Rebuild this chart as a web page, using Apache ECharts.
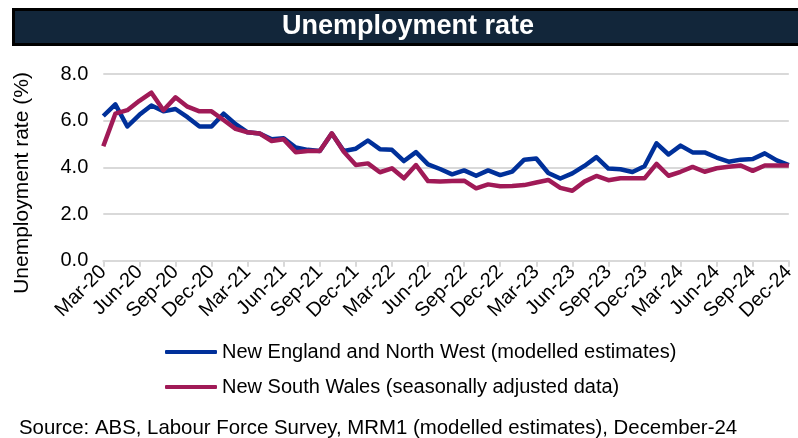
<!DOCTYPE html>
<html><head><meta charset="utf-8">
<script src="https://cdn.jsdelivr.net/npm/echarts@6/dist/echarts.min.js"></script>
<style>html,body{margin:0;padding:0;background:#fff}#c{width:798px;height:438px}</style>
</head><body><div id="c"></div>
<script>
const monthNames = ['Jan','Feb','Mar','Apr','May','Jun','Jul','Aug','Sep','Oct','Nov','Dec'];
// Monthly categories Mar-20 .. Dec-24
const categories = [];
for (let y = 2020; y <= 2024; y++) {
  for (let m = 0; m < 12; m++) {
    if (y === 2020 && m < 2) continue;
    categories.push(monthNames[m] + '-' + String(y).slice(2));
  }
}
const seriesNames = ['New England and North West (modelled estimates)', 'New South Wales (seasonally adjusted data)'];
const nenw = [6.2,6.7,5.75,6.25,6.65,6.4,6.5,6.15,5.75,5.75,6.3,5.85,5.5,5.45,5.2,5.25,4.85,4.75,4.7,5.45,
  4.7,4.8,5.15,4.78,4.75,4.27,4.65,4.13,3.93,3.7,3.87,3.64,3.87,3.67,3.82,4.33,4.38,3.76,3.52,3.74,
  4.06,4.44,3.95,3.92,3.8,4.05,5.03,4.55,4.93,4.64,4.64,4.42,4.24,4.33,4.36,4.6,4.3,4.1];
const nsw = [4.9,6.3,6.45,6.85,7.2,6.45,7.0,6.6,6.4,6.4,6.03,5.65,5.5,5.45,5.13,5.2,4.65,4.7,4.7,5.46,
  4.67,4.1,4.17,3.79,3.96,3.53,4.1,3.41,3.39,3.41,3.43,3.1,3.27,3.19,3.2,3.24,3.35,3.46,3.12,3.0,
  3.39,3.63,3.45,3.53,3.53,3.53,4.15,3.64,3.81,4.02,3.81,3.96,4.03,4.08,3.85,4.08,4.08,4.08];
const yTicks = [0, 2, 4, 6, 8];
const titleText = 'Unemployment rate';
const yAxisTitle = 'Unemployment rate (%)';
const sourceText = 'Source: ABS, Labour Force Survey, MRM1 (modelled estimates), December-24';

const FONT = 'Liberation Sans, Arial, sans-serif';
const chart = echarts.init(document.getElementById('c'), null, {renderer: 'canvas'});
chart.setOption({
  animation: false,
  backgroundColor: '#fff',
  textStyle: {fontFamily: FONT},
  graphic: [
    {type: 'rect', shape: {x: 13.5, y: 9.5, width: 800, height: 35},
     style: {fill: '#12263a', stroke: '#000', lineWidth: 3}, z: 0},
    {type: 'text', x: 408, y: 27,
     style: {text: titleText, fill: '#fff', font: 'bold 27px ' + FONT, textAlign: 'center', textVerticalAlign: 'middle'}},
    {type: 'text', x: 22, y: 183, rotation: Math.PI / 2,
     style: {text: yAxisTitle, fill: '#000', font: '21px ' + FONT, textAlign: 'center', textVerticalAlign: 'middle'}},
    {type: 'text', x: 19, y: 428,
     style: {text: sourceText, fill: '#000', font: '20.4px ' + FONT, textAlign: 'left', textVerticalAlign: 'middle'}}
  ],
  legend: {
    orient: 'vertical', left: 160, top: 337, itemGap: 15,
    itemWidth: 52, itemHeight: 4, icon: 'roundRect',
    textStyle: {fontSize: 20, color: '#000', fontFamily: FONT},
    data: seriesNames
  },
  grid: {left: 103.3, top: 74, width: 696.7, height: 186.7, containLabel: false},
  xAxis: {
    type: 'category', data: categories, boundaryGap: false,
    axisLine: {lineStyle: {color: '#d9d9d9', width: 2}},
    axisTick: {show: true, interval: 2, length: 6, lineStyle: {color: '#d9d9d9', width: 2}},
    axisLabel: {interval: 2, rotate: 45, margin: 8, fontSize: 20, color: '#000', fontFamily: FONT},
    splitLine: {show: false}
  },
  yAxis: {
    type: 'value', min: yTicks[0], max: yTicks[yTicks.length - 1], interval: 2,
    axisLine: {show: false}, axisTick: {show: false},
    axisLabel: {formatter: v => v.toFixed(1), fontSize: 20, color: '#000', margin: 15, fontFamily: FONT},
    splitLine: {lineStyle: {color: '#d9d9d9', width: 2}}
  },
  series: [
    {name: seriesNames[0], type: 'line', data: nenw, symbol: 'none',
     lineStyle: {color: '#00309a', width: 4.5, join: 'round'}, itemStyle: {color: '#00309a'}, z: 2},
    {name: seriesNames[1], type: 'line', data: nsw, symbol: 'none',
     lineStyle: {color: '#a01a57', width: 4.5, join: 'round'}, itemStyle: {color: '#a01a57'}, z: 3}
  ]
});
</script></body></html>
